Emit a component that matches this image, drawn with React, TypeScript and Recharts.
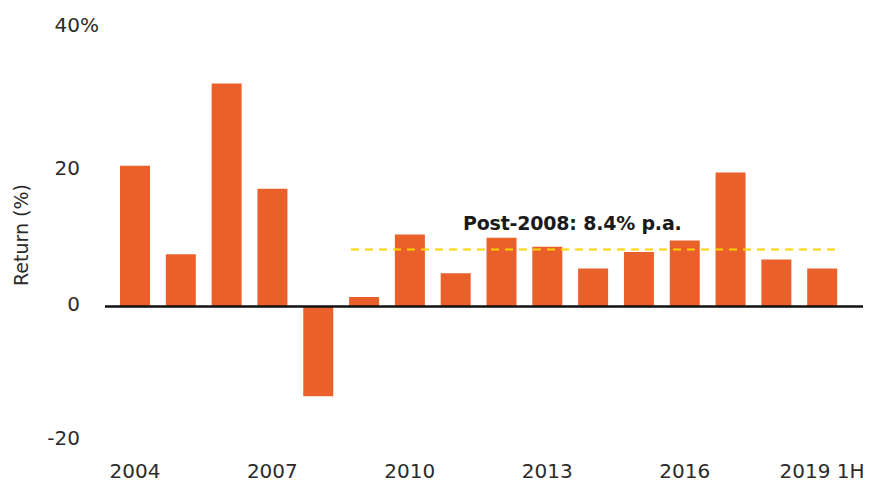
import React from 'react';
import {
  ComposedChart,
  Bar,
  XAxis,
  YAxis,
  ReferenceLine,
  Label,
} from 'recharts';

const years = [
  '2004', '2005', '2006', '2007', '2008', '2009', '2010', '2011',
  '2012', '2013', '2014', '2015', '2016', '2017', '2018', '2019 1H',
];
const returns = [
  20.7, 7.7, 32.8, 17.3, -13.2, 1.4, 10.6, 4.9,
  10.1, 8.8, 5.6, 8.0, 9.7, 19.7, 6.9, 5.6,
];
const yTicks = [-20, 0, 20, 40];
const postGfcAverage = 8.4;
const postGfcLabel = 'Post-2008: 8.4% p.a.';

const data = years.map((year, i) => ({ year, value: returns[i] }));

const FONT = '"DejaVu Sans", sans-serif';
const ORANGE = '#EA602B';
const YELLOW = '#FFD200';
const TEXT = '#2b2b2b';

const YTick = (props: any) => {
  const { y, payload } = props;
  const dy = payload.value === 40 ? -3 : payload.value === -20 ? 2 : 4;
  return (
    <g>
      <text x={80} y={y} dy={dy} textAnchor="end" fontFamily={FONT} fontSize={20} fill={TEXT}>
        {payload.value}
      </text>
      {payload.value === 40 && (
        <text x={80} y={y} dy={dy} textAnchor="start" fontFamily={FONT} fontSize={20} fill={TEXT}>
          %
        </text>
      )}
    </g>
  );
};

const XTick = (props: any) => {
  const { x, y, payload } = props;
  return (
    <text x={x} y={y} dy={27} textAnchor="middle" fontFamily={FONT} fontSize={20} fill={TEXT}>
      {payload.value}
    </text>
  );
};

// extend the dashed segment out to the outer edges of the first and last bars
const AvgLine = (props: any) => {
  const { x1, y1, x2, y2 } = props;
  return (
    <line
      x1={x1 - 13}
      y1={y1}
      x2={x2 + 16}
      y2={y2}
      stroke={YELLOW}
      strokeWidth={2}
      strokeDasharray="8 6"
    />
  );
};

export default function App() {
  return (
    <div style={{ position: 'absolute', left: 0, top: 0, background: '#fff' }}>
      <ComposedChart
        width={877}
        height={484}
        data={data}
        margin={{ top: 34.5, right: 14, bottom: 11.5, left: 0 }}
      >
        <XAxis
          dataKey="year"
          height={30}
          interval={2}
          axisLine={false}
          tickLine={false}
          padding={{ left: 7, right: 18 }}
          tick={<XTick />}
        />
        <YAxis
          width={105}
          domain={[-20, 40]}
          ticks={yTicks}
          axisLine={false}
          tickLine={false}
          tick={<YTick />}
        >
          <Label
            content={() => (
              <text
                transform="translate(28,235) rotate(-90)"
                textAnchor="middle"
                fontFamily={FONT}
                fontSize={19}
                fill={TEXT}
              >
                Return (%)
              </text>
            )}
          />
        </YAxis>
        <Bar dataKey="value" fill={ORANGE} barSize={30} isAnimationActive={false} />
        <ReferenceLine
          segment={[
            { x: '2009', y: postGfcAverage },
            { x: '2019 1H', y: postGfcAverage },
          ]}
          shape={<AvgLine />}
        >
          <Label
            content={() => (
              <text
                x={463}
                y={230}
                fontFamily={FONT}
                fontSize={19}
                fontWeight="bold"
                fill="#1a1a1a"
                letterSpacing={-0.2}
              >
                {postGfcLabel}
              </text>
            )}
          />
        </ReferenceLine>
        <ReferenceLine y={0} stroke="#111" strokeWidth={2.5} />
      </ComposedChart>
    </div>
  );
}
